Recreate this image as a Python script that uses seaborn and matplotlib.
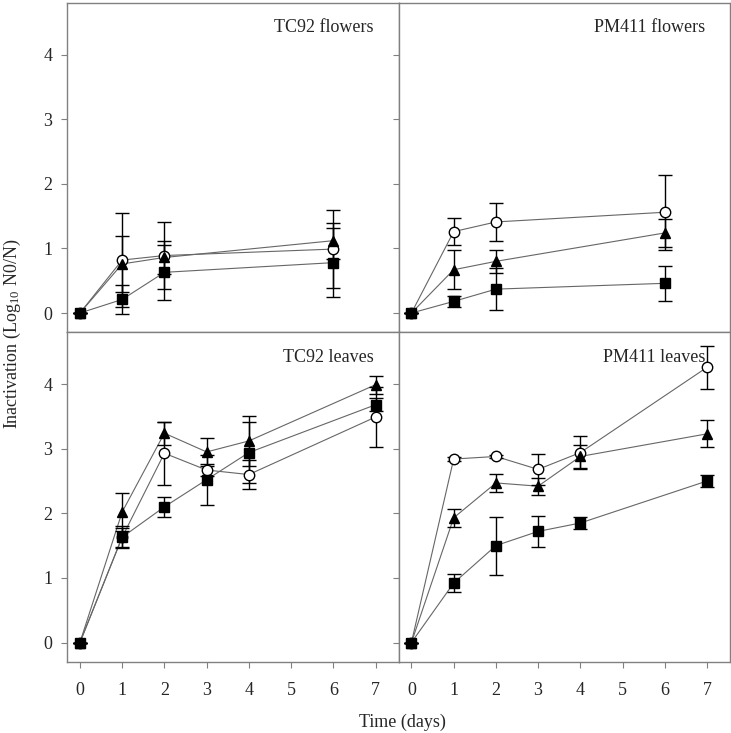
import numpy as np
import pandas as pd
import seaborn as sns
import matplotlib.pyplot as plt

# data (mean, sd), series: circle / triangle / square
days_flowers = [0, 1, 2, 6]
days_leaves = [0, 1, 2, 3, 4, 7]

tc92_fl_circle = [0, 0.82, 0.89, 0.99]
tc92_fl_circle_sd = [0, 0.73, 0.52, 0.60]
tc92_fl_tri = [0, 0.76, 0.86, 1.12]
tc92_fl_tri_sd = [0, 0.43, 0.25, 0.28]
tc92_fl_sq = [0, 0.21, 0.63, 0.78]
tc92_fl_sq_sd = [0, 0.22, 0.43, 0.53]

pm411_fl_circle = [0, 1.26, 1.41, 1.56]
pm411_fl_circle_sd = [0, 0.21, 0.29, 0.58]
pm411_fl_tri = [0, 0.67, 0.80, 1.24]
pm411_fl_tri_sd = [0, 0.30, 0.18, 0.22]
pm411_fl_sq = [0, 0.18, 0.37, 0.46]
pm411_fl_sq_sd = [0, 0.09, 0.32, 0.27]

tc92_lv_circle = [0, 1.63, 2.93, 2.67, 2.60, 3.49]
tc92_lv_circle_sd = [0, 0.17, 0.49, 0.10, 0.22, 0.47]
tc92_lv_tri = [0, 2.02, 3.24, 2.95, 3.12, 3.99]
tc92_lv_tri_sd = [0, 0.30, 0.18, 0.22, 0.38, 0.14]
tc92_lv_sq = [0, 1.63, 2.10, 2.52, 2.94, 3.68]
tc92_lv_sq_sd = [0, 0.15, 0.16, 0.39, 0.47, 0.10]

pm411_lv_circle = [0, 2.84, 2.88, 2.68, 2.94, 4.26]
pm411_lv_circle_sd = [0, 0.03, 0.03, 0.24, 0.25, 0.33]
pm411_lv_tri = [0, 1.93, 2.47, 2.42, 2.88, 3.23]
pm411_lv_tri_sd = [0, 0.14, 0.14, 0.13, 0.18, 0.21]
pm411_lv_sq = [0, 0.92, 1.50, 1.72, 1.85, 2.50]
pm411_lv_sq_sd = [0, 0.14, 0.45, 0.24, 0.10, 0.095]

panels = [
    ("TC92 flowers", days_flowers,
     [(tc92_fl_circle, tc92_fl_circle_sd), (tc92_fl_tri, tc92_fl_tri_sd), (tc92_fl_sq, tc92_fl_sq_sd)]),
    ("PM411 flowers", days_flowers,
     [(pm411_fl_circle, pm411_fl_circle_sd), (pm411_fl_tri, pm411_fl_tri_sd), (pm411_fl_sq, pm411_fl_sq_sd)]),
    ("TC92 leaves", days_leaves,
     [(tc92_lv_circle, tc92_lv_circle_sd), (tc92_lv_tri, tc92_lv_tri_sd), (tc92_lv_sq, tc92_lv_sq_sd)]),
    ("PM411 leaves", days_leaves,
     [(pm411_lv_circle, pm411_lv_circle_sd), (pm411_lv_tri, pm411_lv_tri_sd), (pm411_lv_sq, pm411_lv_sq_sd)]),
]

styles = [
    dict(marker="o", mfc="white", ms=7.5),
    dict(marker="^", mfc="black", ms=7.5),
    dict(marker="s", mfc="black", ms=6.5),
]

sns.set_theme(style="white")
plt.rcParams["font.family"] = ["Liberation Serif", "DejaVu Serif"]
plt.rcParams["mathtext.fontset"] = "custom"
plt.rcParams["mathtext.rm"] = "Liberation Serif"
plt.rcParams["mathtext.default"] = "regular"

fig, axes = plt.subplots(2, 2, figsize=(7.31, 7.33), dpi=100, sharex=True, sharey=True)
fig.subplots_adjust(left=0.092, right=0.999, top=0.996, bottom=0.097, wspace=0, hspace=0)

for ax, (title, days, series) in zip(axes.flat, panels):
    for (mean, sd), st in zip(series, styles):
        df = pd.DataFrame({"day": days, "val": mean, "sd": sd})
        sns.lineplot(data=df, x="day", y="val", ax=ax, color="#666666", lw=0.8, zorder=2)
        ax.errorbar(df["day"], df["val"], yerr=df["sd"], fmt="none", ecolor="black",
                    elinewidth=1, capsize=5, capthick=1, zorder=3)
        ax.plot(df["day"], df["val"], ls="none", marker=st["marker"], ms=st["ms"],
                mfc=st["mfc"], mec="black", mew=1, zorder=4)
    ax.text(0.925, 0.925, title, transform=ax.transAxes, ha="right", va="center", fontsize=13)
    ax.set_xlim(-0.3, 7.55)
    ax.set_ylim(-0.3, 4.8)
    ax.set_xticks(range(8))
    ax.set_yticks(range(5))
    ax.set_xlabel("")
    ax.set_ylabel("")
    for s in ax.spines.values():
        s.set_color("#808080")
        s.set_linewidth(1)
    ax.tick_params(axis="both", which="both", direction="out", length=4.3, width=0.8,
                   color="#808080", labelsize=13, bottom=True, left=True)
    ax.tick_params(axis="x", pad=10)
    ax.tick_params(axis="y", pad=6.5)

for ax in axes[0]:
    ax.tick_params(labelbottom=False)
for ax in axes[:, 1]:
    ax.tick_params(labelleft=False)

fig.text(0.017, 0.545, "Inactivation (Log$_{10}$ N0/N)", rotation=90, ha="center", va="center", fontsize=13)
fig.text(0.551, 0.015, "Time (days)", ha="center", va="center", fontsize=13)

fig.savefig("out.png", dpi=100)
